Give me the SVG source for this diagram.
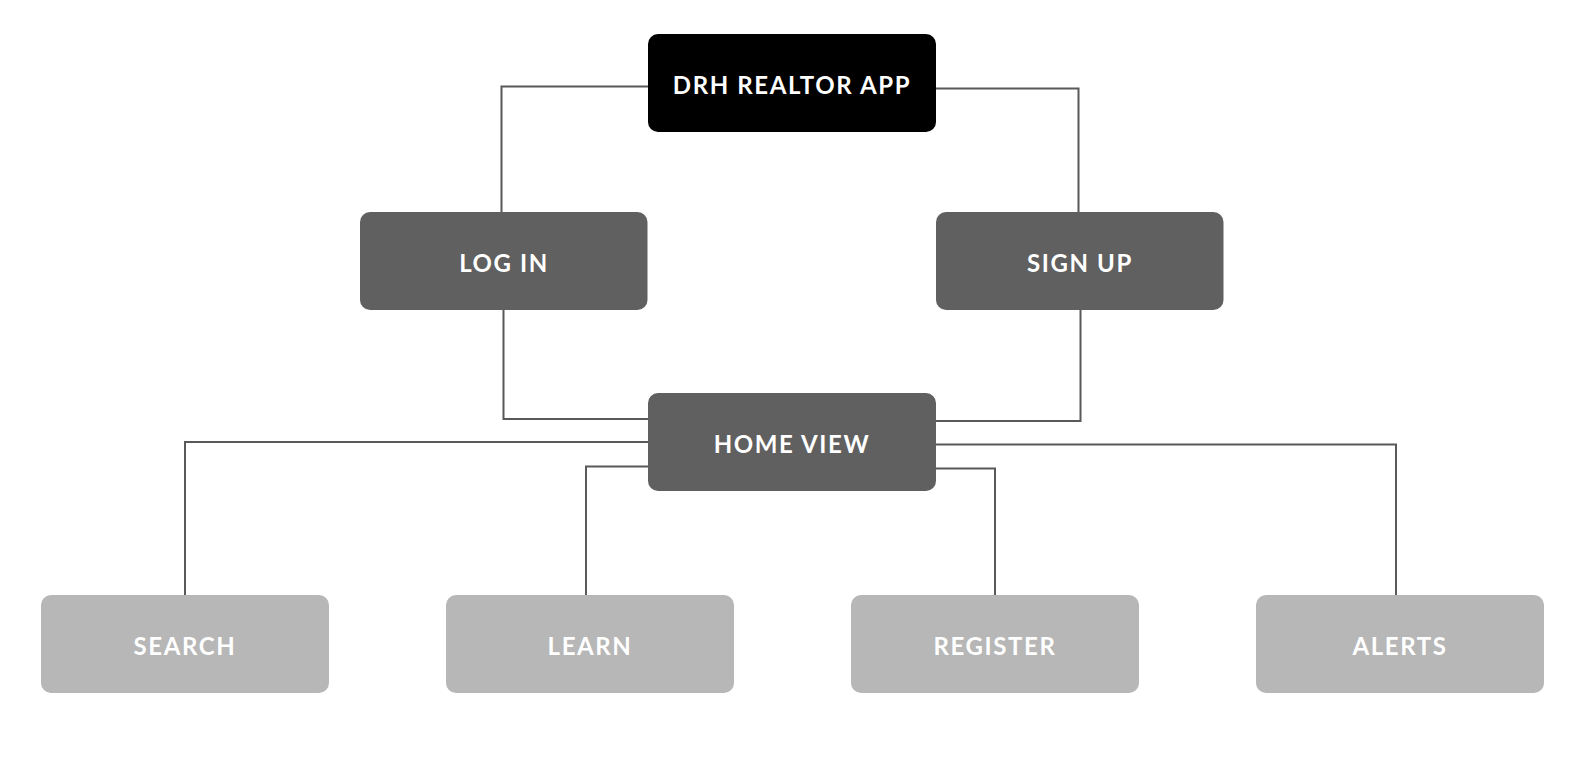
<svg xmlns="http://www.w3.org/2000/svg" width="1576" height="767" viewBox="0 0 1576 767">
<style>
.box{stroke:none}
.k{fill:#000000}
.d{fill:#606060}
.l{fill:#b7b7b7}
.t{font-family:Lato,"Liberation Sans",sans-serif;font-weight:700;font-size:24px;fill:#ffffff;text-anchor:middle;letter-spacing:1.6px}
.c{fill:none;stroke:#595959;stroke-width:2}
</style>
<rect width="1576" height="767" fill="#ffffff"/>
<g id="connectors">
<polyline class="c" points="648,86.5 501.5,86.5 501.5,212"/>
<polyline class="c" points="936,88.5 1078.5,88.5 1078.5,212"/>
<polyline class="c" points="503.5,310 503.5,419 648,419"/>
<polyline class="c" points="1080.5,310 1080.5,421 936,421"/>
<polyline class="c" points="648,442 185,442 185,595"/>
<polyline class="c" points="648,466.5 586,466.5 586,595"/>
<polyline class="c" points="936,468.5 995,468.5 995,595"/>
<polyline class="c" points="936,444.5 1396,444.5 1396,595"/>
</g>
<g id="drh">
<rect class="box k" x="648" y="34" width="288" height="98" rx="10"/>
<text class="t" x="792" y="93.5">DRH REALTOR APP</text>
</g>
<g id="login">
<rect class="box d" x="360" y="212" width="287.5" height="98" rx="10"/>
<text class="t" x="504" y="271.5">LOG IN</text>
</g>
<g id="signup">
<rect class="box d" x="936" y="212" width="287.5" height="98" rx="10"/>
<text class="t" x="1080" y="271.5">SIGN UP</text>
</g>
<g id="home">
<rect class="box d" x="648" y="393" width="288" height="98" rx="10"/>
<text class="t" x="792" y="452.5">HOME VIEW</text>
</g>
<g id="search">
<rect class="box l" x="41" y="595" width="288" height="98" rx="10"/>
<text class="t" x="185" y="654.5">SEARCH</text>
</g>
<g id="learn">
<rect class="box l" x="446" y="595" width="288" height="98" rx="10"/>
<text class="t" x="590" y="654.5">LEARN</text>
</g>
<g id="register">
<rect class="box l" x="851" y="595" width="288" height="98" rx="10"/>
<text class="t" x="995" y="654.5">REGISTER</text>
</g>
<g id="alerts">
<rect class="box l" x="1256" y="595" width="288" height="98" rx="10"/>
<text class="t" x="1400" y="654.5">ALERTS</text>
</g>
</svg>
